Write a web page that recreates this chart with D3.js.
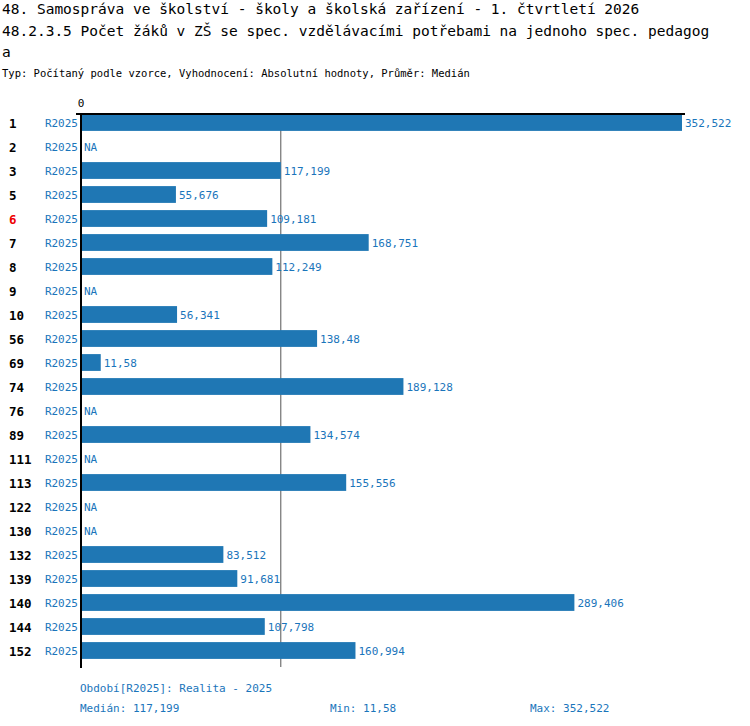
<!DOCTYPE html>
<html><head><meta charset="utf-8">
<script src="https://cdn.jsdelivr.net/npm/d3@7"></script>
<style>body{margin:0;background:#fff}text{font-family:"DejaVu Sans Mono",monospace}</style>
</head><body>
<svg id="c" width="750" height="726"></svg>
<script>
const categories = ["1","2","3","5","6","7","8","9","10","56","69","74","76","89","111","113","122","130","132","139","140","144","152"];
const values = [352.522,null,117.199,55.676,109.181,168.751,112.249,null,56.341,138.48,11.58,189.128,null,134.574,null,155.556,null,null,83.512,91.681,289.406,107.798,160.994];
const labels = ["352,522","NA","117,199","55,676","109,181","168,751","112,249","NA","56,341","138,48","11,58","189,128","NA","134,574","NA","155,556","NA","NA","83,512","91,681","289,406","107,798","160,994"];
const highlight = "6";
const median = 117.199;
const blue = "#1f77b4", txt = "#1a75bb";

const svg = d3.select("#c");
const x = d3.scaleLinear().domain([0, 352.522]).range([81, 682]);
const y = d3.scaleBand().domain(categories).range([110.5, 662.5]).paddingInner(0.3).paddingOuter(0.15);
const val = d => values[categories.indexOf(d)];
const lab = d => labels[categories.indexOf(d)];

svg.append("text").attr("x",2).attr("y",14).attr("font-size",14.5).text("48. Samospráva ve školství - školy a školská zařízení - 1. čtvrtletí 2026");
svg.append("text").attr("x",2).attr("y",36).attr("font-size",14.5).text("48.2.3.5 Počet žáků v ZŠ se spec. vzdělávacími potřebami na jednoho spec. pedagog");
svg.append("text").attr("x",2).attr("y",57).attr("font-size",14.5).text("a");
svg.append("text").attr("x",2).attr("y",77).attr("font-size",10.5).text("Typ: Počítaný podle vzorce, Vyhodnocení: Absolutní hodnoty, Průměr: Medián");

svg.append("text").attr("x",x(0)).attr("y",107).attr("font-size",11).attr("text-anchor","middle").text("0");

svg.append("line").attr("x1",x(median)).attr("x2",x(median)).attr("y1",114).attr("y2",667).attr("stroke","#555").attr("stroke-width",1);

const rows = svg.selectAll("g.row").data(categories).join("g").attr("class","row");
rows.filter(d=>val(d)!==null).append("rect")
  .attr("x",x(0)).attr("y",d=>y(d)).attr("height",y.bandwidth())
  .attr("width",d=>x(val(d))-x(0)).attr("fill",blue);
rows.append("text").attr("x",d=>val(d)===null?x(0)+3:x(val(d))+3)
  .attr("y",d=>y(d)+y.bandwidth()/2+4).attr("font-size",11).attr("fill",txt).text(lab);
rows.append("text").attr("x",78).attr("y",d=>y(d)+y.bandwidth()/2+4).attr("font-size",11)
  .attr("text-anchor","end").attr("fill",txt).text("R2025");
rows.append("text").attr("x",9).attr("y",d=>y(d)+y.bandwidth()/2+5).attr("font-size",12.5).attr("font-weight","bold")
  .attr("fill",d=>d===highlight?"#e00":"#000").text(d=>d);

svg.append("line").attr("x1",76).attr("x2",685).attr("y1",114).attr("y2",114).attr("stroke","#000").attr("stroke-width",2);
svg.append("line").attr("x1",81).attr("x2",81).attr("y1",113).attr("y2",668).attr("stroke","#000").attr("stroke-width",2);

svg.append("text").attr("x",80).attr("y",692).attr("font-size",11).attr("fill",txt).text("Období[R2025]: Realita - 2025");
svg.append("text").attr("x",80).attr("y",712).attr("font-size",11).attr("fill",txt).text("Medián: 117,199");
svg.append("text").attr("x",330).attr("y",712).attr("font-size",11).attr("fill",txt).text("Min: 11,58");
svg.append("text").attr("x",530).attr("y",712).attr("font-size",11).attr("fill",txt).text("Max: 352,522");
</script>
</body></html>
